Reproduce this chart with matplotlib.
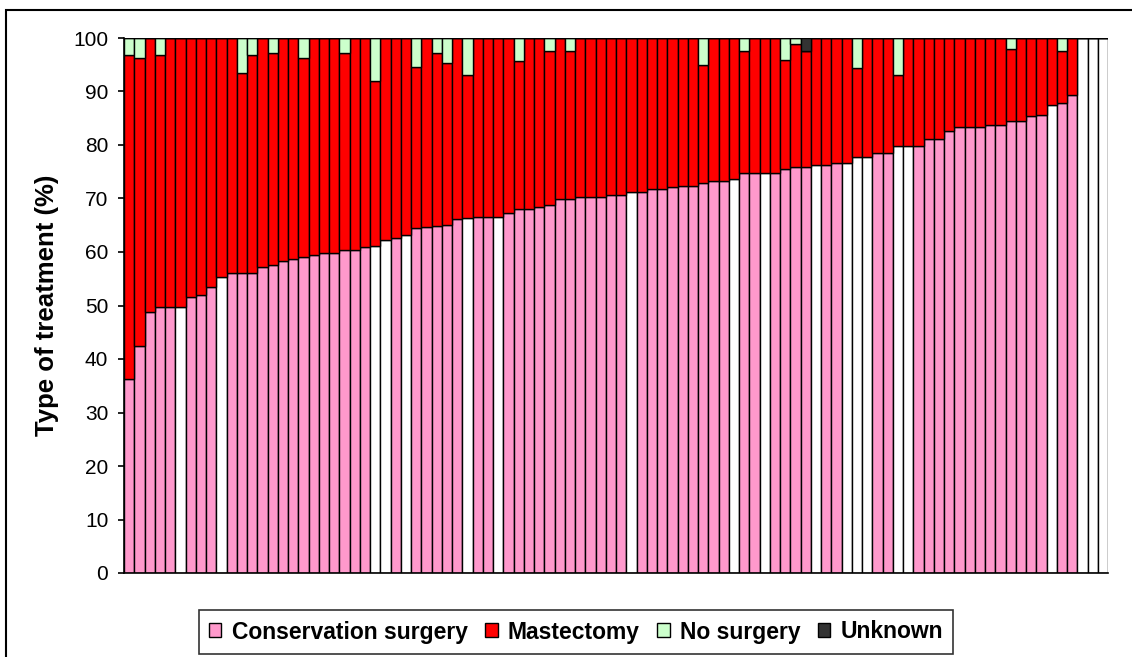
import matplotlib.pyplot as plt
from matplotlib.patches import Patch, Rectangle

plt.rcParams['font.family'] = ['Liberation Sans', 'DejaVu Sans']

# percentage of each treatment per centre (96 centres, sorted by conservation surgery)
conservation = [
    36.3, 42.5, 48.8, 49.8, 49.8, 49.8, 51.6, 52.0, 53.5, 55.3,
    56.0, 56.0, 56.0, 57.2, 57.5, 58.3, 58.7, 59.1, 59.4, 59.9,
    59.9, 60.4, 60.4, 60.9, 61.2, 62.3, 62.7, 63.1, 64.5, 64.7,
    64.9, 65.0, 66.1, 66.4, 66.6, 66.6, 66.6, 67.2, 68.0, 68.0,
    68.4, 68.8, 69.9, 69.9, 70.2, 70.2, 70.2, 70.6, 70.7, 71.2,
    71.2, 71.7, 71.7, 72.1, 72.4, 72.4, 72.9, 73.2, 73.2, 73.6,
    74.7, 74.7, 74.7, 74.7, 75.6, 75.9, 75.9, 76.3, 76.3, 76.6,
    76.6, 77.7, 77.7, 78.5, 78.5, 79.9, 79.9, 79.9, 81.1, 81.1,
    82.6, 83.4, 83.4, 83.4, 83.7, 83.7, 84.4, 84.4, 85.5, 85.6,
    87.4, 87.8, 89.3, 100.0, 100.0, 100.0,
]
mastectomy = [
    60.6, 53.7, 51.2, 47.1, 50.2, 50.2, 48.4, 48.0, 46.5, 44.7,
    44.0, 37.5, 40.9, 42.8, 39.7, 41.7, 41.3, 37.1, 40.6, 40.1,
    40.1, 36.8, 39.6, 39.1, 30.8, 37.7, 37.3, 36.9, 30.1, 35.3,
    32.3, 30.3, 33.9, 26.7, 33.4, 33.4, 33.4, 32.8, 27.7, 32.0,
    31.6, 28.7, 30.1, 27.6, 29.8, 29.8, 29.8, 29.4, 29.3, 28.8,
    28.8, 28.3, 28.3, 27.9, 27.6, 27.6, 22.1, 26.8, 26.8, 26.4,
    22.8, 25.3, 25.3, 25.3, 20.2, 22.9, 21.6, 23.7, 23.7, 23.4,
    23.4, 16.6, 22.3, 21.5, 21.5, 13.2, 20.1, 20.1, 18.9, 18.9,
    17.4, 16.6, 16.6, 16.6, 16.3, 16.3, 13.6, 15.6, 14.5, 14.4,
    12.6, 9.7, 10.7, 0.0, 0.0, 0.0,
]
no_surgery = [
    3.1, 3.8, 0, 3.1, 0, 0, 0, 0, 0, 0,
    0, 6.5, 3.1, 0, 2.8, 0, 0, 3.8, 0, 0,
    0, 2.8, 0, 0, 8.0, 0, 0, 0, 5.4, 0,
    2.8, 4.7, 0, 6.9, 0, 0, 0, 0, 4.3, 0,
    0, 2.5, 0, 2.5, 0, 0, 0, 0, 0, 0,
    0, 0, 0, 0, 0, 0, 5.0, 0, 0, 0,
    2.5, 0, 0, 0, 4.2, 1.2, 0, 0, 0, 0,
    0, 5.7, 0, 0, 0, 6.9, 0, 0, 0, 0,
    0, 0, 0, 0, 0, 0, 2.0, 0, 0, 0,
    0, 2.5, 0, 0, 0, 0,
]
unknown = [0] * 66 + [2.5] + [0] * 29

# centres drawn with a white conservation segment (1-based)
white_centres = [6, 10, 25, 26, 28, 34, 37, 50, 60, 63, 68, 71, 72, 73,
                 76, 77, 91, 94, 95, 96]

labels = ['Conservation surgery', 'Mastectomy', 'No surgery', 'Unknown']
colores = ['#FF99CC', '#FF0000', '#CCFFCC', '#333333']

x = list(range(len(conservation)))
col_cons = ['white' if i + 1 in white_centres else colores[0] for i in x]

fig = plt.figure(figsize=(11.32, 6.57), dpi=100)
ax = fig.add_axes([124 / 1132, 1 - 573 / 657, 984 / 1132, 535 / 657])

bottom = [0.0] * len(x)
kw = dict(width=1.0, edgecolor='black', linewidth=1.0)
ax.bar(x, conservation, bottom=bottom, color=col_cons, **kw)
bottom = [b + v for b, v in zip(bottom, conservation)]
for serie, color in zip([mastectomy, no_surgery, unknown], colores[1:]):
    ax.bar(x, serie, bottom=bottom, color=color, **kw)
    bottom = [b + v for b, v in zip(bottom, serie)]

ax.set_xlim(-0.5, len(x) - 0.5)
ax.set_ylim(0, 100)
ax.set_yticks(range(0, 101, 10))
ax.set_xticks([])
ax.tick_params(axis='y', direction='out', length=4.3, width=1.2, labelsize=15, pad=7)
ax.set_ylabel('Type of treatment (%)', fontsize=18.5, fontweight='bold', labelpad=10)
ax.spines['top'].set_visible(False)
ax.spines['right'].set_visible(False)
ax.spines['left'].set_linewidth(1.2)
ax.spines['bottom'].set_linewidth(1.2)

handles = [Patch(facecolor=c, edgecolor='black', linewidth=1.0) for c in colores]
leg = fig.legend(
    handles, labels,
    loc='center',
    bbox_to_anchor=(576 / 1132, 1 - 632 / 657),
    ncol=4,
    prop={'weight': 'bold', 'size': 16.5},
    frameon=True,
    fancybox=False,
    handlelength=0.55,
    handleheight=0.55,
    handletextpad=0.45,
    columnspacing=0.75,
    borderpad=0.45,
    borderaxespad=0,
)
leg.get_frame().set_edgecolor('black')
leg.get_frame().set_linewidth(1.2)

# marco exterior de la figura
fig.patches.append(Rectangle((6 / 1132, -0.05), 1.2, 1.05 - 10 / 657,
                             transform=fig.transFigure, fill=False,
                             edgecolor='black', linewidth=1.5))

fig.savefig('out.png', dpi=100)
